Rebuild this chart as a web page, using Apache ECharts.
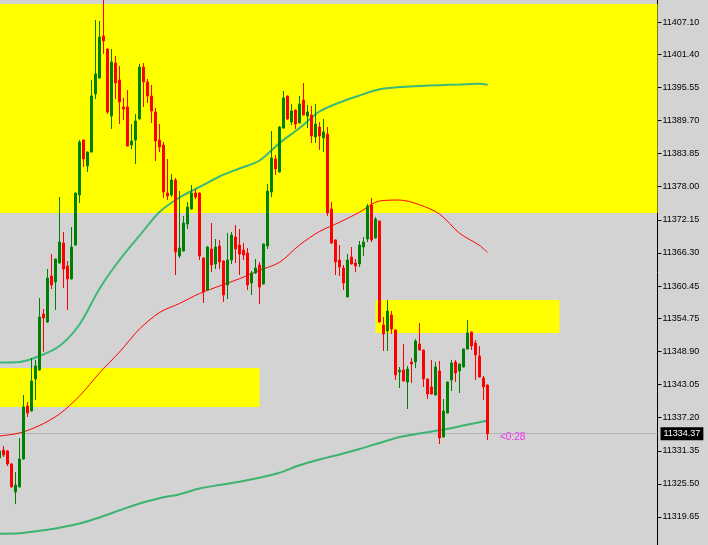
<!DOCTYPE html>
<html><head><meta charset="utf-8">
<script src="https://cdn.jsdelivr.net/npm/echarts@6/dist/echarts.min.js"></script>
<style>html,body{margin:0;padding:0;background:#d3d3d3;overflow:hidden}#c{width:708px;height:545px;}</style>
</head><body><div id="c"></div>
<script>
// ---- data ----
const opens = [11330.07,11331.48,11331.31,11329.01,11324.06,11324.95,11329.89,11339.26,11338.37,11344.03,11345.62,
11355.51,11354.10,11362.23,11361.17,11364.52,11368.06,11363.99,11361.70,11367.70,11376.54,
11386.25,11381.66,11384.13,11394.38,11397.21,11404.63,11402.33,11390.50,11399.86,11396.86,
11392.09,11392.09,11385.37,11386.25,11389.97,11399.15,11396.50,11394.03,11391.20,11386.25,
11385.37,11376.89,11376.54,11379.19,11365.76,11366.64,11371.41,11374.06,11376.89,11376.89,
11365.41,11359.75,11367.00,11364.35,11367.53,11364.88,11360.64,11365.05,11369.12,11367.70,
11366.82,11366.29,11360.99,11362.76,11364.17,11360.81,11367.53,11377.07,11382.90,11380.60,
11388.37,11394.03,11389.44,11391.56,11389.26,11393.32,11390.50,11390.67,11386.78,11388.55,
11386.61,11387.31,11374.06,11368.59,11365.05,11363.64,11358.52,11365.58,11364.52,11364.35,
11367.35,11368.76,11374.77,11368.94,11371.94,11353.57,11352.51,11355.34,11352.69,11345.27,
11345.62,11343.50,11347.03,11347.03,11350.21,11349.15,11344.03,11342.62,11341.20,11345.44,
11333.78,11338.02,11343.85,11347.03,11345.44,11346.15,11349.33,11352.33,11350.39,11348.09,
11344.21,11342.97];
const closes = [11331.31,11330.60,11329.01,11324.95,11325.30,11329.89,11339.08,11338.02,11343.68,11346.33,11354.98,
11354.81,11361.87,11360.64,11365.23,11368.23,11363.46,11361.70,11367.35,11376.89,11385.90,
11382.90,11384.13,11394.03,11397.92,11404.45,11403.75,11391.20,11400.04,11396.33,11392.97,
11391.73,11385.19,11386.08,11389.61,11399.15,11396.50,11394.03,11391.38,11386.08,11385.02,
11377.07,11376.36,11379.19,11366.47,11367.17,11371.59,11374.42,11376.89,11376.18,11365.76,
11359.40,11367.35,11364.17,11367.35,11364.70,11358.87,11365.05,11369.47,11367.00,11366.11,
11365.94,11360.64,11362.76,11363.64,11360.28,11367.88,11377.24,11383.07,11381.13,11388.55,
11393.68,11389.97,11391.38,11389.08,11392.62,11390.67,11391.20,11386.96,11389.08,11386.96,
11387.67,11373.36,11368.06,11364.70,11363.82,11360.99,11365.05,11364.35,11363.99,11367.70,
11368.23,11374.59,11368.59,11372.30,11354.10,11351.98,11356.04,11352.86,11344.74,11345.62,
11343.68,11345.80,11346.68,11350.74,11349.15,11344.03,11341.38,11341.38,11346.15,11333.60,
11338.37,11343.50,11346.86,11345.09,11346.68,11349.33,11352.16,11349.86,11348.27,11344.38,
11342.62,11334.37];
const lows = [11329.72,11330.25,11328.66,11324.86,11321.94,11324.90,11329.80,11337.31,11338.30,11340.32,11345.44,
11348.80,11353.92,11359.93,11356.22,11364.45,11360.11,11356.22,11361.62,11367.53,11375.12,
11381.48,11380.60,11384.05,11393.50,11397.14,11401.45,11390.85,11388.20,11393.50,11389.08,
11389.79,11385.12,11384.66,11382.01,11389.90,11392.09,11392.79,11389.26,11382.54,11384.13,
11376.01,11375.65,11376.18,11362.40,11365.41,11366.57,11370.53,11374.00,11375.83,11365.05,
11357.46,11359.68,11362.93,11363.46,11363.46,11357.63,11358.16,11364.35,11364.52,11362.40,
11365.05,11359.75,11358.87,11362.58,11357.28,11360.74,11367.00,11376.18,11380.07,11380.53,
11388.20,11389.79,11388.90,11388.20,11389.19,11390.60,11388.37,11385.72,11385.72,11384.49,
11384.13,11372.83,11367.88,11362.40,11362.23,11359.75,11358.45,11364.28,11362.93,11363.82,
11365.76,11368.23,11368.23,11368.87,11354.03,11348.98,11348.98,11351.98,11343.85,11342.44,
11343.61,11338.73,11343.32,11345.97,11349.08,11342.62,11340.49,11341.31,11341.13,11332.54,
11333.71,11337.95,11341.91,11343.50,11341.56,11346.08,11349.26,11349.15,11343.85,11344.31,
11340.32,11333.25];
const highs = [11331.66,11332.19,11331.48,11329.19,11327.60,11333.60,11341.20,11339.96,11347.74,11347.39,11358.34,
11356.40,11363.46,11366.11,11365.30,11376.18,11370.00,11364.88,11370.88,11376.96,11386.25,
11386.32,11384.20,11396.86,11407.46,11407.28,11411.87,11402.40,11402.33,11401.10,11399.33,
11393.68,11395.09,11389.08,11390.85,11399.68,11399.86,11397.03,11395.97,11391.91,11389.08,
11385.90,11382.90,11380.25,11379.54,11377.24,11372.83,11375.30,11378.30,11377.60,11376.96,
11365.48,11367.53,11371.59,11368.76,11368.59,11364.95,11369.82,11370.00,11371.24,11370.53,
11368.06,11367.17,11363.11,11365.23,11364.70,11367.95,11378.48,11387.85,11383.60,11388.73,
11394.91,11394.10,11392.62,11391.63,11394.03,11396.33,11392.44,11392.26,11392.62,11389.44,
11389.97,11388.55,11375.30,11368.66,11367.70,11364.17,11366.11,11367.35,11365.23,11368.41,
11369.12,11374.95,11376.01,11372.65,11372.01,11354.98,11357.99,11356.04,11352.76,11346.15,
11350.21,11346.33,11347.74,11351.10,11353.92,11349.22,11344.10,11347.39,11347.03,11347.21,
11340.49,11343.57,11347.39,11347.39,11346.75,11349.40,11354.45,11352.40,11350.92,11349.86,
11344.56,11343.04];

// moving averages: [bar index, value]
const maTeal = [[0,11346.94],[5,11347.03],[10,11348.09],[15,11349.86],[20,11353.66],[25,11359.98],[30,11365.05],
[35,11369.35],[40,11373.53],[45,11376.10],[50,11377.95],[55,11379.81],[60,11381.22],[65,11382.63],[70,11385.72],
[75,11388.37],[80,11391.29],[85,11392.88],[90,11394.12],[95,11395.21],[100,11395.62],[105,11395.80],[110,11395.94],
[115,11396.06],[120,11396.20],[122,11396.03]];
const maRed = [[0,11333.96],[5,11334.49],[10,11335.81],[15,11337.84],[20,11341.02],[25,11345.09],[30,11348.80],
[35,11352.86],[40,11355.78],[45,11357.37],[50,11359.13],[55,11360.46],[60,11361.75],[65,11363.23],[70,11364.65],
[75,11367.70],[80,11370.09],[85,11371.71],[90,11373.50],[95,11375.48],[100,11375.65],[105,11374.82],[110,11373.18],
[115,11369.79],[120,11367.63],[122,11366.41]];
const maGreen = [[0,11316.70],[5,11316.77],[10,11317.21],[15,11317.76],[20,11318.50],[25,11319.56],[30,11320.83],
[35,11322.03],[40,11322.97],[45,11323.68],[50,11324.68],[55,11325.30],[60,11325.88],[65,11326.57],[70,11327.46],
[75,11328.78],[80,11329.80],[85,11330.69],
[90,11331.66],[95,11332.72],[100,11333.78],[105,11334.40],[110,11334.98],[115,11335.67],[120,11336.40],[122,11336.66]];

// yellow zones: [top, bottom, fromIndex, toIndex] (null = whole width)
const zoneTops = [11410.28, 11345.97, 11357.99];
const zoneBottoms = [11373.36, 11339.08, 11352.16];
const zoneFrom = [null, 0, 94];
const zoneTo = [null, 65, 140];

const tickLabels = ['11319.65','11325.50','11331.35','11337.20','11343.05','11348.90','11354.75','11360.45',
'11366.30','11372.15','11378.00','11383.85','11389.70','11395.55','11401.40','11407.10'];
const lastPrice = 11334.37;
const timerText = '<0:28';
const slotCount = 165;

// ---- chart ----
const cats = Array.from({length: slotCount}, (_, i) => String(i));
const candles = opens.map((o, i) => [o, closes[i], lows[i], highs[i]]);
const tickValues = tickLabels.map(Number);
const zoneData = zoneTops.map((t, i) => {
  const a = {yAxis: t}, b = {yAxis: zoneBottoms[i]};
  if (zoneFrom[i] !== null) { a.xAxis = zoneFrom[i]; b.xAxis = zoneTo[i]; }
  return [a, b];
});

const chart = echarts.init(document.getElementById('c'), null, {renderer: 'canvas'});
chart.setOption({
  animation: false,
  backgroundColor: '#d3d3d3',
  grid: {left: -2.5, right: 50.5, top: 0, bottom: 0, containLabel: false, outerBoundsMode: 'none'},
  xAxis: {type: 'category', data: cats, boundaryGap: true,
    axisLine: {show: false}, axisTick: {show: false}, axisLabel: {show: false}, splitLine: {show: false}},
  yAxis: {type: 'value', position: 'right', min: 11314.70, max: 11410.99, scale: true,
    axisLine: {show: true, lineStyle: {color: '#000', width: 1}},
    axisTick: {show: true, inside: false, length: 4, lineStyle: {color: '#000'}, customValues: tickValues},
    axisLabel: {show: true, customValues: tickValues, color: '#000', fontFamily: 'Liberation Sans', fontSize: 9, margin: 5,
      formatter: v => { const t = tickLabels.find(s => Math.abs(Number(s) - v) < 0.001); return t || v.toFixed(2); }},
    splitLine: {show: false}},
  series: [
    {type: 'line', data: [], z: 1, silent: true,
      markArea: {silent: true, z: 1, itemStyle: {color: '#ffff00', opacity: 1}, data: zoneData},
      markLine: {silent: true, z: 2, symbol: ['none', 'none'], data: [{yAxis: lastPrice}],
        lineStyle: {color: '#b4b4b4', width: 1, type: 'solid'},
        label: {show: true, position: 'end', formatter: lastPrice.toFixed(2), backgroundColor: '#000', color: '#fff',
          fontFamily: 'Liberation Sans', fontSize: 9, padding: [2, 3, 2, 3], distance: 3}}},
    {type: 'line', data: maTeal, z: 3, showSymbol: false, smooth: 0.3, lineStyle: {color: '#3cb878', width: 2}},
    {type: 'line', data: maRed, z: 3, showSymbol: false, smooth: 0.3, lineStyle: {color: '#ff0000', width: 1}},
    {type: 'line', data: maGreen, z: 3, showSymbol: false, smooth: 0.3, lineStyle: {color: '#3cb371', width: 2}},
    {type: 'candlestick', data: candles, z: 5, barWidth: 2, clip: true,
      itemStyle: {color: '#008000', color0: '#ff0000', borderColor: '#008000', borderColor0: '#ff0000', borderWidth: 1}}
  ],
  graphic: [{type: 'text', left: 500, top: 432, z: 10,
    style: {text: timerText, fill: '#ee33ee', font: '10px "Liberation Sans"'}}]
});
</script></body></html>
